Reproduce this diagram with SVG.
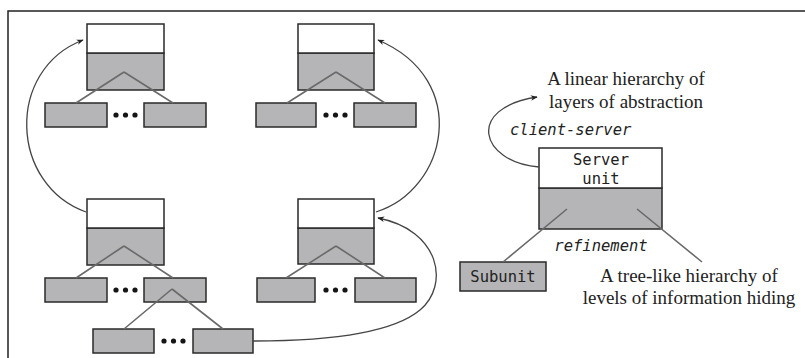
<svg xmlns="http://www.w3.org/2000/svg" width="805" height="358" viewBox="0 0 805 358">
<style>
.top{fill:#ffffff;stroke:#2a2a2a;stroke-width:1.5}
.bot{fill:#b5b5b7;stroke:#2a2a2a;stroke-width:1.5}
.sub{fill:#b5b5b7;stroke:#2a2a2a;stroke-width:1.5}
.tree{fill:none;stroke:#6a6a6a;stroke-width:1.6}
.curve{fill:none;stroke:#444;stroke-width:1.3}
.dot{fill:#151515}
.serif{font-family:"Liberation Serif","Times New Roman",serif;font-size:19px;fill:#222}
.mono{font-family:"DejaVu Sans Mono","Liberation Mono",monospace;font-size:15.5px;fill:#222}
.it{font-style:italic}
</style>
<defs>
<marker id="ah" viewBox="0 0 10 10" refX="9" refY="5" markerWidth="9" markerHeight="7" markerUnits="userSpaceOnUse" orient="auto">
<path d="M0,1 L10,5 L0,9 L3,5 Z" fill="#222"/>
</marker>
</defs>
<rect width="805" height="358" fill="#ffffff"/>
<path d="M8,358 L8,11 L805,11" fill="none" stroke="#222" stroke-width="1.5"/>

<g id="unit-top-left">
<rect class="bot" x="87" y="53" width="77" height="37"/>
<rect class="top" x="87" y="24" width="77" height="29"/>
</g>
<g id="unit-top-right">
<rect class="bot" x="298" y="53" width="76" height="37"/>
<rect class="top" x="298" y="24" width="76" height="29"/>
</g>
<g id="unit-bottom-left">
<rect class="bot" x="87" y="228" width="77" height="37"/>
<rect class="top" x="87" y="199" width="77" height="29"/>
</g>
<g id="unit-bottom-right">
<rect class="bot" x="298" y="228" width="76" height="36"/>
<rect class="top" x="298" y="199" width="76" height="29"/>
</g>

<g id="tl-sub-left"><rect class="sub" x="45" y="103" width="62" height="24"/></g>
<g id="tl-dots"><circle class="dot" cx="116" cy="115" r="2.6"/><circle class="dot" cx="125.5" cy="115" r="2.6"/><circle class="dot" cx="135" cy="115" r="2.6"/></g>
<g id="tl-sub-right"><rect class="sub" x="144" y="103" width="62" height="24"/></g>

<g id="tr-sub-left"><rect class="sub" x="256" y="103" width="60" height="24"/></g>
<g id="tr-dots"><circle class="dot" cx="326" cy="115" r="2.6"/><circle class="dot" cx="335.5" cy="115" r="2.6"/><circle class="dot" cx="345" cy="115" r="2.6"/></g>
<g id="tr-sub-right"><rect class="sub" x="354" y="103" width="62" height="24"/></g>

<g id="bl-sub-left"><rect class="sub" x="45" y="278" width="62" height="24"/></g>
<g id="bl-dots"><circle class="dot" cx="116" cy="290" r="2.6"/><circle class="dot" cx="125.5" cy="290" r="2.6"/><circle class="dot" cx="135" cy="290" r="2.6"/></g>
<g id="bl-sub-right"><rect class="sub" x="144" y="278" width="62" height="24"/></g>

<g id="bl-subsub-left"><rect class="sub" x="93" y="329" width="61" height="24"/></g>
<g id="bl-subsub-dots"><circle class="dot" cx="164" cy="341" r="2.6"/><circle class="dot" cx="173.5" cy="341" r="2.6"/><circle class="dot" cx="183" cy="341" r="2.6"/></g>
<g id="bl-subsub-right"><rect class="sub" x="193" y="329" width="60" height="24"/></g>

<g id="br-sub-left"><rect class="sub" x="257" y="278" width="58" height="24"/></g>
<g id="br-dots"><circle class="dot" cx="326" cy="290" r="2.6"/><circle class="dot" cx="335.5" cy="290" r="2.6"/><circle class="dot" cx="345" cy="290" r="2.6"/></g>
<g id="br-sub-right"><rect class="sub" x="355" y="278" width="61" height="24"/></g>

<g id="server-unit">
<rect class="bot" x="539" y="188" width="123" height="41"/>
<rect class="top" x="539" y="148" width="123" height="40"/>
<text class="mono" x="601" y="165" text-anchor="middle">Server</text>
<text class="mono" x="601" y="184" text-anchor="middle">unit</text>
</g>
<g id="subunit">
<rect class="sub" x="460" y="262" width="86" height="29"/>
<text class="mono" x="503" y="282" text-anchor="middle">Subunit</text>
</g>

<g id="connectors">
<path class="tree" d="M124,72 L76,103 M124,72 L173,103"/>
<path class="tree" d="M336,72 L287,103 M336,72 L385,103"/>
<path class="tree" d="M124,246 L76,278 M124,246 L173,278"/>
<path class="tree" d="M172,289 L124,329 M172,289 L223,329"/>
<path class="tree" d="M336,246 L286,278 M336,246 L385,278"/>
<path class="tree" d="M567,209 L503,262 M637,209 L702,262"/>
<path class="curve" d="M86,212 C10,185 5,70 83,40" marker-end="url(#ah)"/>
<path class="curve" d="M376,212 C447,190 472,80 378,40" marker-end="url(#ah)"/>
<path class="curve" d="M253,341 C320,341 390,335 420,310 C450,285 440,230 378,218" marker-end="url(#ah)"/>
<path class="curve" d="M539,167 C480,162 465,108 537,97" marker-end="url(#ah)"/>
</g>

<g id="labels">
<text class="serif" x="626" y="85" text-anchor="middle">A linear hierarchy of</text>
<text class="serif" x="626" y="108" text-anchor="middle">layers of abstraction</text>
<text class="mono it" x="510" y="135" font-size="16">client-server</text>
<text class="mono it" x="601" y="251" text-anchor="middle">refinement</text>
<text class="serif" x="689" y="282" text-anchor="middle">A tree-like hierarchy of</text>
<text class="serif" x="689" y="304" text-anchor="middle">levels of information hiding</text>
</g>
</svg>
